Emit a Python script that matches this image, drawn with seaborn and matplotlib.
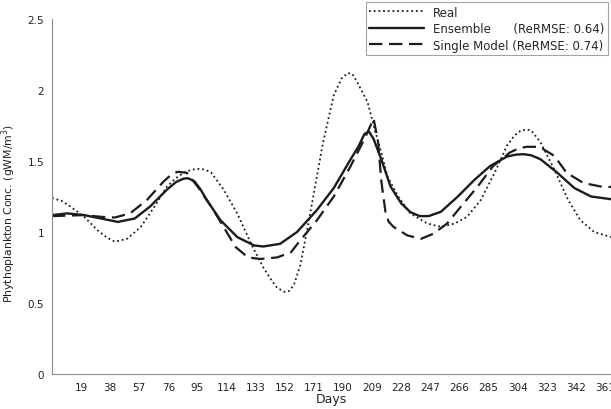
import matplotlib
matplotlib.use("Agg")
import matplotlib.pyplot as plt
import seaborn as sns

# ---- data ----
real_days = [0, 6, 12, 21, 30, 36, 41, 49, 58, 67, 75, 81, 86, 91, 95, 100, 104, 112, 121, 130,
             138, 143, 147, 152, 155, 158, 162, 166, 171, 177, 184, 189, 193, 196, 199, 206, 210, 215, 219, 226,
             234, 245, 254, 263, 271, 280, 289, 297, 302, 306, 310, 313, 319, 328, 337, 345, 354, 365]
real_vals = [1.24, 1.22, 1.18, 1.107, 1.01, 0.96, 0.932, 0.952, 1.036, 1.18, 1.32, 1.38, 1.417, 1.438, 1.445, 1.44, 1.417, 1.30, 1.13, 0.917,
             0.75, 0.665, 0.607, 0.578, 0.585, 0.63, 0.76, 0.98, 1.274, 1.631, 1.964, 2.08, 2.119, 2.115, 2.06, 1.917, 1.75, 1.56, 1.393, 1.25,
             1.131, 1.06, 1.036, 1.06, 1.107, 1.226, 1.417, 1.607, 1.68, 1.714, 1.722, 1.714, 1.631, 1.44, 1.226, 1.083, 1.0, 0.964]

ens_days = [0, 10, 21, 32, 43, 54, 64, 75, 81, 86, 89, 93, 97, 101, 110, 121, 132, 138, 149, 160,
            173, 184, 195, 200, 204, 207, 210, 215, 221, 228, 234, 240, 246, 254, 265, 276, 286, 297, 303, 308,
            313, 319, 330, 341, 352, 365]
ens_vals = [1.119, 1.131, 1.119, 1.095, 1.071, 1.095, 1.179, 1.298, 1.352, 1.376, 1.378, 1.357, 1.30, 1.226, 1.083, 0.964, 0.905, 0.898, 0.917, 1.0,
            1.155, 1.31, 1.512, 1.60, 1.69, 1.707, 1.655, 1.512, 1.321, 1.202, 1.14, 1.112, 1.112, 1.143, 1.25, 1.369, 1.464, 1.531, 1.545, 1.548,
            1.54, 1.512, 1.417, 1.31, 1.25, 1.231]

sm_days = [0, 21, 32, 41, 51, 62, 73, 78, 82, 88, 95, 104, 112, 120, 128, 136, 147, 156, 162, 173,
           184, 195, 204, 210, 213, 215, 218, 220, 223, 232, 241, 249, 258, 267, 278, 288, 299, 305, 310, 315,
           319, 328, 336, 347, 358, 365]
sm_vals = [1.112, 1.119, 1.107, 1.102, 1.131, 1.226, 1.357, 1.405, 1.424, 1.417, 1.321, 1.179, 1.036, 0.893, 0.821, 0.81, 0.821, 0.857, 0.94, 1.083,
           1.25, 1.464, 1.655, 1.798, 1.63, 1.36, 1.12, 1.07, 1.036, 0.976, 0.952, 0.988, 1.06, 1.179, 1.321, 1.464, 1.56, 1.59, 1.60, 1.60,
           1.595, 1.536, 1.417, 1.345, 1.321, 1.317]

series_labels = ["Real", "Ensemble      (ReRMSE: 0.64)", "Single Model (ReRMSE: 0.74)"]

x_ticks = [19, 38, 57, 76, 95, 114, 133, 152, 171, 190, 209, 228, 247, 266, 285, 304, 323, 342, 361]
x_tick_labels = ["19", "38", "57", "76", "95", "114", "133", "152", "171", "190", "209", "228",
                 "247", "266", "285", "304", "323", "342", "361"]
y_ticks = [0, 0.5, 1, 1.5, 2, 2.5]
y_tick_labels = ["0", "0.5", "1", "1.5", "2", "2.5"]

# ---- plot ----
sns.set_style("white")
plt.rcParams["font.family"] = ["DejaVu Sans"]

fig = plt.figure(figsize=(6.11, 4.10), dpi=100)
ax = fig.add_axes([52 / 611, 1 - 375 / 410, 1 - 52 / 611, (375 - 20) / 410])

col = "#1c1c1c"
sns.lineplot(x=real_days, y=real_vals, ax=ax, color=col, linewidth=1.3,
             linestyle=(0, (1, 1.6)), label=series_labels[0])
sns.lineplot(x=ens_days, y=ens_vals, ax=ax, color=col, linewidth=1.7,
             linestyle="-", label=series_labels[1])
sns.lineplot(x=sm_days, y=sm_vals, ax=ax, color=col, linewidth=1.6,
             linestyle=(0, (6, 3)), label=series_labels[2])

ax.set_xlim(0, 365)
ax.set_ylim(0, 2.5)
ax.set_xticks(x_ticks)
ax.set_xticklabels(x_tick_labels)
ax.set_yticks(y_ticks)
ax.set_yticklabels(y_tick_labels)

for s in ["top", "right"]:
    ax.spines[s].set_visible(False)
for s in ["left", "bottom"]:
    ax.spines[s].set_color("#8c8c8c")
    ax.spines[s].set_linewidth(0.8)

ax.tick_params(axis="both", which="major", direction="out", length=3.5, width=0.8,
               color="#8c8c8c", labelsize=7.5, labelcolor="#222222", pad=2)
ax.tick_params(axis="x", pad=2.5)

ax.set_xlabel("Days", fontsize=9, color="#222222")
ax.xaxis.set_label_coords(0.5, -0.052)
ax.set_ylabel("Phythoplankton Conc. (gWM/m$^3$)", fontsize=7.8, color="#222222")
ax.yaxis.set_label_coords(-0.061, 0.454)

handles, labels = ax.get_legend_handles_labels()
ax.get_legend().remove()
leg = fig.legend(handles, labels, loc="upper right", bbox_to_anchor=(608 / 611, 1 - 3 / 410),
                 fontsize=8.5, frameon=True, fancybox=False, handlelength=4.6,
                 handletextpad=0.8, borderpad=0.3, labelspacing=0.3, borderaxespad=0)
leg.get_frame().set_edgecolor("#8c8c8c")
leg.get_frame().set_linewidth(0.8)

fig.savefig("out.png", dpi=100)
